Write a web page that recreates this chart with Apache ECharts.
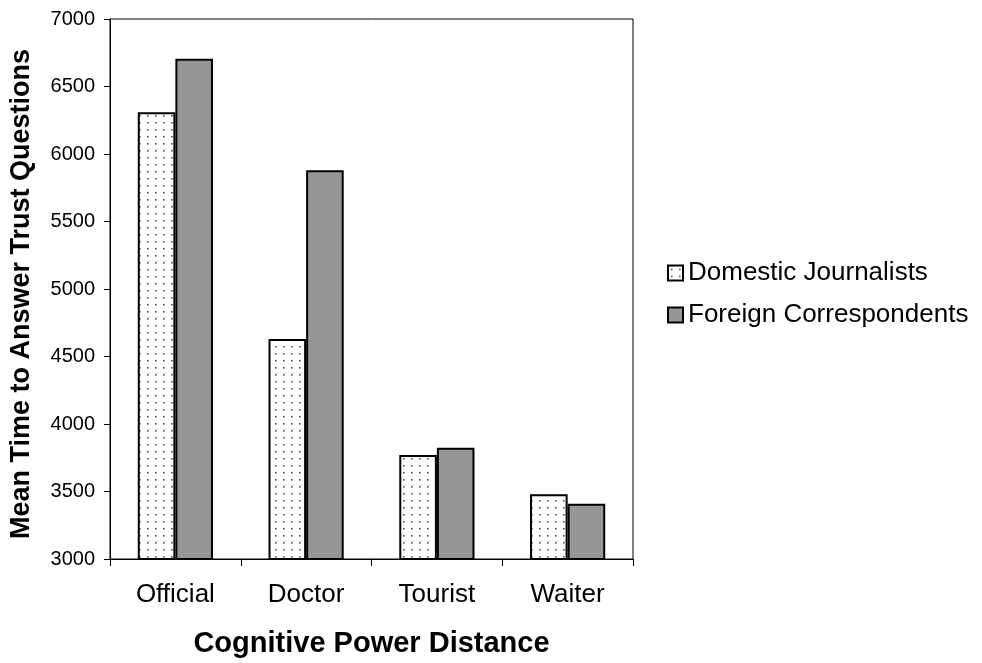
<!DOCTYPE html>
<html><head><meta charset="utf-8">
<script src="https://cdn.jsdelivr.net/npm/echarts@6/dist/echarts.min.js"></script>
<style>html,body{margin:0;padding:0;background:#fff}#c{width:982px;height:663px}</style>
</head><body><div id="c"></div>
<script>
var categories = ['Official', 'Doctor', 'Tourist', 'Waiter'];
var domestic = [6310, 4630, 3770, 3480];
var foreign = [6705, 5880, 3825, 3410];
var seriesNames = ['Domestic Journalists', 'Foreign Correspondents'];

var tile = document.createElement('canvas');
tile.width = 8; tile.height = 7;
var tc = tile.getContext('2d');
tc.fillStyle = '#fff'; tc.fillRect(0, 0, 8, 7);
tc.fillStyle = '#555';
tc.fillRect(3, 3, 1.6, 1.6);

var font = 'Liberation Sans, Arial, sans-serif';
var chart = echarts.init(document.getElementById('c'));
chart.setOption({
  animation: false,
  backgroundColor: '#fff',
  grid: { left: 110, top: 19, right: 349, bottom: 103, show: true, borderColor: '#000', borderWidth: 1 },
  legend: {
    orient: 'vertical', left: 662, top: 255, itemWidth: 15, itemHeight: 15, itemGap: 16,
    icon: 'rect',
    textStyle: { fontFamily: font, fontSize: 26, color: '#000' },
    data: seriesNames
  },
  xAxis: {
    type: 'category', data: categories,
    axisLine: { lineStyle: { color: '#000', width: 1 } },
    axisTick: { show: true, length: 7, lineStyle: { color: '#000' } },
    axisLabel: { fontFamily: font, fontSize: 26, color: '#000', margin: 23 },
    name: 'Cognitive Power Distance', nameLocation: 'middle', nameGap: 70,
    nameTextStyle: { fontFamily: font, fontSize: 29, fontWeight: 'bold', color: '#000' }
  },
  yAxis: {
    type: 'value', min: 3000, max: 7000, interval: 500,
    splitLine: { show: false },
    axisLine: { show: true, lineStyle: { color: '#000', width: 1 } },
    axisTick: { show: true, length: 6, lineStyle: { color: '#000' } },
    axisLabel: { fontFamily: font, fontSize: 20, color: '#000', margin: 15,
      formatter: function (v) { return String(v); } },
    name: 'Mean Time to Answer Trust Questions', nameLocation: 'middle', nameGap: 75,
    nameTextStyle: { fontFamily: font, fontSize: 27, fontWeight: 'bold', color: '#000', padding: [0, 10, 0, 0] }
  },
  series: [
    { name: seriesNames[0], type: 'bar', data: domestic, barGap: '0%', barCategoryGap: '42.5%',
      itemStyle: { color: { image: tile, repeat: 'repeat' }, borderColor: '#000', borderWidth: 2 } },
    { name: seriesNames[1], type: 'bar', data: foreign,
      itemStyle: { color: '#969696', borderColor: '#000', borderWidth: 2 } }
  ]
});
</script></body></html>
